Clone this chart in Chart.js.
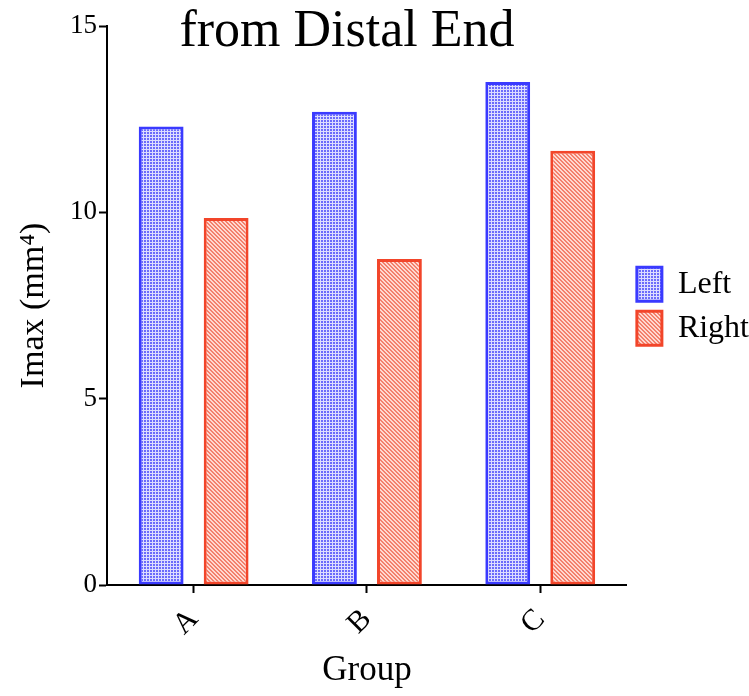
<!DOCTYPE html>
<html>
<head>
<meta charset="utf-8">
<script src="https://cdn.jsdelivr.net/npm/chart.js@4.4.1/dist/chart.umd.min.js"></script>
<style>
  body { margin: 0; background: #fff; }
  #wrap { width: 749px; height: 696px; position: relative; }
</style>
</head>
<body>
<div id="wrap"><canvas id="graphCanvas"></canvas></div>
<script>
const categories = ['A', 'B', 'C'];
const leftValues = [12.3, 12.7, 13.5];
const rightValues = [9.85, 8.75, 11.65];
const seriesNames = ['Left', 'Right'];
const yTicks = [0, 5, 10, 15];
const chartTitle = 'from Distal End';
const xTitle = 'Group';
const yTitle = 'Imax (mm\u2074)';

const serif = "'Liberation Serif', 'Times New Roman', serif";

// fill patterns like the Prism bars
function gridPattern() {
    const c = document.createElement('canvas');
    c.width = 3; c.height = 3;
    const g = c.getContext('2d');
    g.fillStyle = '#dcdcff';
    g.fillRect(0, 0, 3, 3);
    g.fillStyle = '#6b6bfb';
    g.fillRect(0, 0, 2, 2);
    return g.createPattern(c, 'repeat');
}

function stripePattern() {
    const c = document.createElement('canvas');
    c.width = 4; c.height = 4;
    const g = c.getContext('2d');
    g.fillStyle = '#ffd8d0';
    g.fillRect(0, 0, 4, 4);
    g.fillStyle = '#f3806c';
    for (let i = 0; i < 4; i++) {
        g.fillRect(i, i, 1, 1);
        g.fillRect((i + 1) % 4, i, 1, 1);
    }
    return g.createPattern(c, 'repeat');
}

const ctx = document.getElementById('graphCanvas').getContext('2d');

const titlePlugin = {
    id: 'topTitle',
    afterDraw(chart) {
        const c = chart.ctx;
        c.save();
        c.font = '52px ' + serif;
        c.fillStyle = '#000';
        c.textAlign = 'center';
        c.textBaseline = 'alphabetic';
        c.fillText(chartTitle, 347, 46);
        c.restore();
    }
};

new Chart(ctx, {
    type: 'bar',
    data: {
        labels: categories,
        datasets: [
            {
                label: seriesNames[0],
                data: leftValues,
                backgroundColor: gridPattern(),
                borderColor: '#3a3aff',
                borderWidth: 3,
                borderSkipped: false
            },
            {
                label: seriesNames[1],
                data: rightValues,
                backgroundColor: stripePattern(),
                borderColor: '#f2452a',
                borderWidth: 3,
                borderSkipped: false
            }
        ]
    },
    options: {
        responsive: true,
        maintainAspectRatio: false,
        animation: false,
        categoryPercentage: 0.75,
        barPercentage: 0.69,
        layout: { padding: { top: 26, right: -10, bottom: 0, left: 0 } },
        scales: {
            x: {
                offset: true,
                grid: {
                    offset: false,
                    drawOnChartArea: false,
                    drawTicks: true,
                    tickLength: 8,
                    tickWidth: 2,
                    tickColor: '#000'
                },
                border: { color: '#000', width: 2 },
                ticks: {
                    color: '#000',
                    font: { family: serif, size: 30 },
                    minRotation: 45,
                    maxRotation: 45,
                    padding: 9
                },
                title: {
                    display: true,
                    text: xTitle,
                    color: '#000',
                    font: { family: serif, size: 35 },
                    padding: { top: 6 }
                },
                afterFit(scale) { scale.height = 111; }
            },
            y: {
                min: 0,
                max: 15,
                afterBuildTicks(scale) { scale.ticks = yTicks.map(v => ({ value: v })); },
                grid: {
                    drawOnChartArea: false,
                    drawTicks: true,
                    tickLength: 8,
                    tickWidth: 2,
                    tickColor: '#000'
                },
                border: { color: '#000', width: 2 },
                ticks: {
                    color: '#000',
                    font: { family: serif, size: 27 },
                    padding: 2
                },
                title: {
                    display: true,
                    text: yTitle,
                    color: '#000',
                    font: { family: serif, size: 34 },
                    padding: { top: 14, bottom: 0 }
                },
                afterFit(scale) { scale.width = 107; }
            }
        },
        plugins: {
            legend: {
                display: true,
                position: 'right',
                align: 'start',
                title: {
                    display: true,
                    text: '',
                    font: { size: 1 },
                    padding: { top: 230, bottom: 0 }
                },
                labels: {
                    color: '#000',
                    font: { family: serif, size: 32 },
                    boxWidth: 25,
                    boxHeight: 34,
                    padding: 10
                }
            },
            tooltip: { enabled: false }
        }
    },
    plugins: [titlePlugin]
});
</script>
</body>
</html>
